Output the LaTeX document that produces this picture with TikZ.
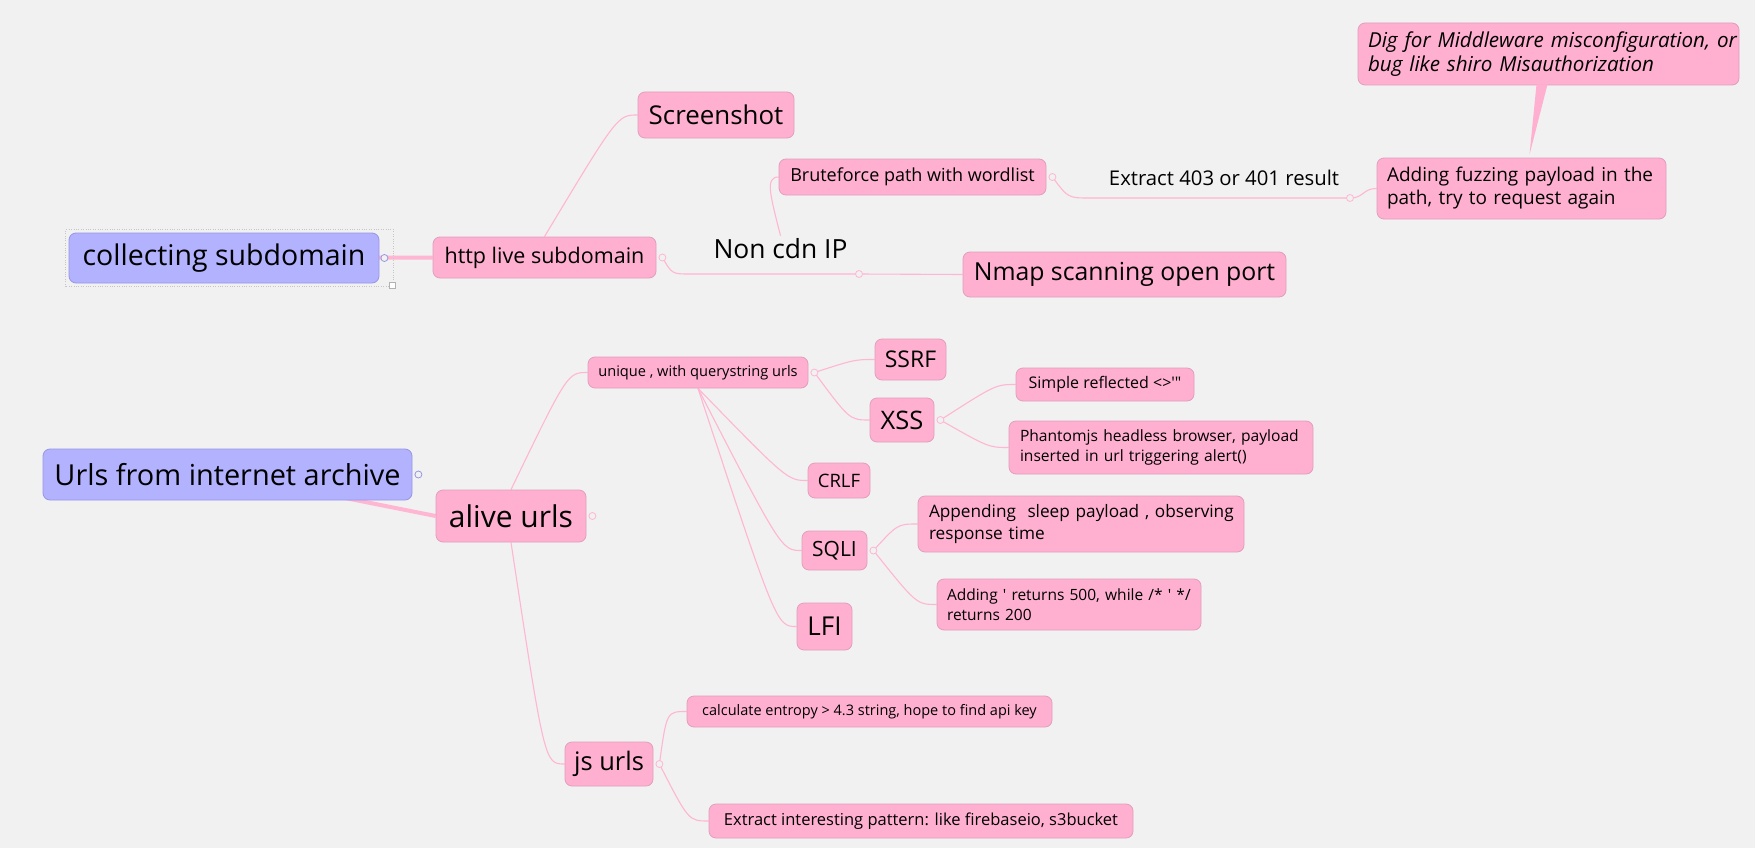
\documentclass[tikz,border=0pt]{standalone}
\usepackage{fontspec}
\setmainfont{Open Sans}[Ligatures=TeXOff]
\usetikzlibrary{calc}
\definecolor{paper}{RGB}{241,241,241}
\definecolor{rosefill}{RGB}{255,176,208}
\definecolor{roseedge}{RGB}{226,158,188}
\definecolor{roseline}{RGB}{255,182,210}
\definecolor{lilacfill}{RGB}{178,178,255}
\definecolor{lilacedge}{RGB}{150,150,228}
\pgfdeclarelayer{paperlayer}
\pgfdeclarelayer{linklayer}
\pgfsetlayers{paperlayer,linklayer,main}
\newcommand\fsz[2]{\fontsize{#1}{#2}\selectfont}
\tikzset{
  topic/.style={draw=roseedge, fill=rosefill, rounded corners=7pt, line width=0.8pt, inner sep=0pt, text=black},
  root/.style={topic, draw=lilacedge, fill=lilacfill},
  note/.style={topic, align=left, inner xsep=10pt, text width=#1},
  branch/.style={draw=roseline, line width=1.1pt, to path={.. controls ($(\tikztotarget)+(-20,0)$) .. (\tikztotarget)}},
  trunk/.style={draw=roseline, line width=4pt},
  dot/.style={draw=roseline, fill=paper, line width=0.8pt}
}
\begin{document}
\begin{tikzpicture}[x=1pt,y=-1pt]
\useasboundingbox (0,0) rectangle (1755,848);
\begin{pgfonlayer}{paperlayer}
\fill[paper] (0,0) rectangle (1755,848);
\end{pgfonlayer}
% first tree
\node[root, minimum width=310, minimum height=50, font=\fsz{28.5}{34}] (collect) at (224,258) {collecting subdomain};
\node[topic, minimum width=223, minimum height=41, font=\fsz{21.5}{26}] (http) at (544.5,257.5) {http live subdomain};
\node[topic, minimum width=156, minimum height=46, font=\fsz{25.9}{30}] (shot) at (716,115) {Screenshot};
\node[font=\fsz{26.4}{30}, anchor=base, inner sep=2pt] (ip) at (780.5,258) {Non cdn IP};
\node[topic, minimum width=323, minimum height=45, font=\fsz{24.8}{30}] (nmap) at (1124.5,274.5) {Nmap scanning open port};
\node[topic, minimum width=267, minimum height=36, font=\fsz{18}{22}] (brute) at (912.5,177) {Bruteforce path with wordlist};
\node[font=\fsz{20.3}{24}, anchor=base, inner sep=2pt] (forbid) at (1224,185) {Extract 403 or 401 result};
\node[note=269, minimum height=61, font=\fsz{19}{23}] (fuzz) at (1521.5,188.5) {\mbox{Adding fuzzing payload in the}\\\mbox{path, try to request again}};
\node[note=361, inner xsep=10pt, minimum height=62, font=\fsz{20.6}{24}\itshape] (dig) at (1548.5,54) {\mbox{Dig for Middleware misconfiguration, or}\\\mbox{bug like shiro Misauthorization}};
\coordinate (ipstart) at (690,274);
\coordinate (ipdot) at (859,274);
\coordinate (forbidstart) at (1090,198);
\coordinate (forbiddot) at (1350,198);
% second tree
\node[root, minimum width=369, minimum height=51, font=\fsz{28.9}{34}] (urls) at (227.5,474.5) {Urls from internet archive};
\node[topic, minimum width=150, minimum height=52, font=\fsz{30}{36}] (alive) at (511,516) {alive urls};
\node[topic, minimum width=220, minimum height=31, font=\fsz{14.6}{18}] (unique) at (698,372.5) {unique , with querystring urls};
\node[topic, minimum width=71, minimum height=41, font=\fsz{23}{28}] (ssrf) at (910.5,359.5) {SSRF};
\node[topic, minimum width=64, minimum height=44, font=\fsz{25.5}{30}] (xss) at (902,420) {XSS};
\node[topic, minimum width=62, minimum height=35, font=\fsz{18.5}{22}] (crlf) at (839,480.5) {CRLF};
\node[topic, minimum width=65, minimum height=39, font=\fsz{21}{26}] (sqli) at (834.5,550.5) {SQLI};
\node[topic, minimum width=55, minimum height=47, font=\fsz{26}{30}] (lfi) at (824.5,626.5) {LFI};
\node[topic, minimum width=178, minimum height=33, font=\fsz{16}{20}] (simple) at (1105,384.5) {Simple reflected <>'"};
\node[note=282, inner xsep=11pt, minimum height=53, font=\fsz{15.6}{20}] (phantom) at (1161,447.5) {\mbox{Phantomjs headless browser, payload}\\\mbox{inserted in url triggering alert()}};
\node[note=304, inner xsep=11pt, minimum height=56, font=\fsz{17.2}{22}] (sleep) at (1081,524) {\mbox{Appending\ \ sleep payload , observing}\\\mbox{response time}};
\node[note=244, minimum height=51, font=\fsz{15.5}{20}] (quote) at (1069,604.5) {\mbox{Adding ' returns 500, while /* ' */}\\\mbox{returns 200}};
\node[topic, minimum width=88, minimum height=44, font=\fsz{25.5}{30}] (js) at (609,764) {js urls};
\node[topic, minimum width=365, minimum height=31, font=\fsz{14.5}{18}] (entropy) at (869.5,711.5) {calculate entropy > 4.3 string, hope to find api key};
\node[topic, minimum width=424, minimum height=34, font=\fsz{16.5}{20}] (pattern) at (921,821) {Extract interesting pattern: like firebaseio, s3bucket};
% collapse dots
\coordinate (collectdot) at ($(collect.east)+(5,0)$);
\coordinate (httpdot) at ($(http.east)+(6,0)$);
\coordinate (brutedot) at ($(brute.east)+(6,0)$);
\coordinate (urlsdot) at ($(urls.east)+(6,0)$);
\coordinate (alivedot) at ($(alive.east)+(6,0)$);
\coordinate (uniquedot) at ($(unique.east)+(6,0)$);
\coordinate (xssdot) at ($(xss.east)+(6,0)$);
\coordinate (sqlidot) at ($(sqli.east)+(6,0)$);
\coordinate (jsdot) at ($(js.east)+(6,0)$);
\begin{pgfonlayer}{linklayer}
\draw[trunk] (collect.center) -- (http.west);
\draw[trunk] (urls.center) -- (alive.west);
\draw[branch] (http.north) to (shot.west);
\draw[draw=roseline, line width=1.1pt] (httpdot) .. controls (672,274) .. (ipstart) -- (ipdot);
\draw[draw=roseline, line width=1.1pt] (ipdot) -- (nmap.west);
\draw[draw=roseline, line width=1.1pt] (ip.north) .. controls +(-10,-40) and +(-14,0) .. (brute.west);
\draw[draw=roseline, line width=1.1pt] (brutedot) .. controls (1068,198) .. (forbidstart) -- (forbiddot);
\draw[draw=roseline, line width=1.1pt] (forbiddot) .. controls +(14,0) and +(-14,0) .. (fuzz.west);
\draw[branch] (alive.north) to (unique.west);
\draw[branch] (alive.south) to (js.west);
\draw[branch] (uniquedot) to (ssrf.west);
\draw[branch] (uniquedot) to (xss.west);
\draw[branch] (unique.south) to (crlf.west);
\draw[branch] (unique.south) to (sqli.west);
\draw[branch] (unique.south) to (lfi.west);
\draw[branch] (xssdot) to (simple.west);
\draw[branch] (xssdot) to (phantom.west);
\draw[branch] (sqlidot) to (sleep.west);
\draw[branch] (sqlidot) to (quote.west);
\draw[branch] (jsdot) to (entropy.west);
\draw[branch] (jsdot) to (pattern.west);
\end{pgfonlayer}
\fill[rosefill] ($(dig.south)+(-12,-1)$) -- ($(dig.south)+(-1,-1)$) -- ($(fuzz.north)+(8,-3)$) -- cycle;
\draw[gray!45, dotted] ($(collect.south west)+(-3,3)$) rectangle ($(collect.north east)+(14,-3)$);
\filldraw[fill=white, draw=gray!60] ($(collect.south east)+(10,-1)$) rectangle +(6,6);
\filldraw[dot, draw=lilacedge] (collectdot) circle (3.5);
\filldraw[dot, draw=lilacedge] (urlsdot) circle (3.5);
\filldraw[dot] (httpdot) circle (3.5);
\filldraw[dot] (ipdot) circle (3.5);
\filldraw[dot] (brutedot) circle (3.5);
\filldraw[dot] (forbiddot) circle (3.5);
\filldraw[dot] (alivedot) circle (3.5);
\filldraw[dot] (uniquedot) circle (3.5);
\filldraw[dot] (xssdot) circle (3.5);
\filldraw[dot] (sqlidot) circle (3.5);
\filldraw[dot] (jsdot) circle (3.5);
\end{tikzpicture}
\end{document}
